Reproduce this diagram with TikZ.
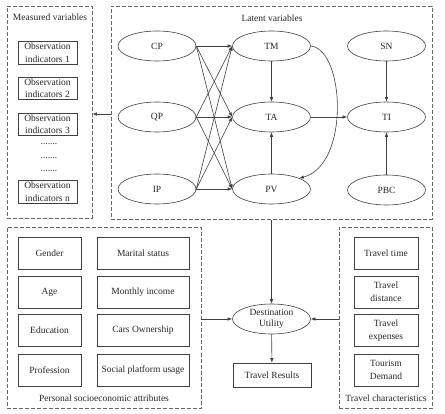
\documentclass[tikz,border=0pt]{standalone}
\usepackage{fontspec}
\setmainfont{Liberation Serif}
\usetikzlibrary{shapes.geometric,arrows.meta}
\begin{document}
\begin{tikzpicture}[x=1pt,y=-1pt,
  font=\fontsize{9.5}{12.5}\selectfont,
  every node/.style={text=black!85},
  grp/.style={draw=black!60, line width=0.7pt, dash pattern=on 4pt off 2pt},
  ell/.style={draw=black!75, ellipse, line width=0.6pt, minimum width=78pt, minimum height=30pt, inner sep=0pt},
  obs/.style={draw=black!75, line width=0.6pt, minimum width=59pt, minimum height=22.5pt, inner sep=0pt, align=center},
  attr/.style={draw=black!75, line width=0.6pt, minimum height=32pt, inner sep=0pt, align=center},
  arr/.style={draw=black!75, line width=0.6pt, -{Latex[length=4.5pt,width=3.5pt]}},
  lbl/.style={inner sep=0pt}
]
\useasboundingbox (0,0) rectangle (445,414);
% group boxes
\node[grp, minimum width=85pt, minimum height=212pt, inner sep=0pt] (meas) at (49.5,112.5) {};
\node[grp, minimum width=321pt, minimum height=213pt, inner sep=0pt] (lat) at (271.5,113) {};
\node[grp, minimum width=194pt, minimum height=181pt, inner sep=0pt] (pers) at (104,318) {};
\node[grp, minimum width=93pt, minimum height=181pt, inner sep=0pt] (trav) at (385.5,318) {};
% labels
\node[lbl] (lmeas) at (50,17) {Measured variables};
\node[lbl] (llat) at (272,18) {Latent variables};
\node[lbl] (lpers) at (104,398) {Personal socioeconomic attributes};
\node[lbl] (ltrav) at (386,398) {Travel characteristics};
% observation indicators
\node[obs] (o1) at (47.5,53) {Observation\\indicators 1};
\node[obs] (o2) at (47.5,88.5) {Observation\\indicators 2};
\node[obs] (o3) at (47.5,124.5) {Observation\\indicators 3};
\node[lbl] (d1) at (49,144) {.......};
\node[lbl] (d2) at (49,158) {.......};
\node[lbl] (d3) at (49,171) {.......};
\node[obs] (on) at (47.5,192) {Observation\\indicators n};
% latent ellipses
\node[ell] (cp) at (157,46) {CP};
\node[ell] (qp) at (157,117) {QP};
\node[ell] (ip) at (157,189) {IP};
\node[ell] (tm) at (271.5,46) {TM};
\node[ell] (ta) at (271.5,117) {TA};
\node[ell] (pv) at (271.5,189) {PV};
\node[ell] (sn) at (386.5,46) {SN};
\node[ell] (ti) at (386.5,117) {TI};
\node[ell] (pbc) at (386.5,190) {PBC};
% cross arrows
\foreach \s in {cp,qp,ip}{
  \foreach \t in {tm,ta,pv}{
    \draw[arr] (\s.east) -- (\t.west);
  }
}
\draw[arr] (tm) -- (ta);
\draw[arr] (pv) -- (ta);
\draw[arr] (ta) -- (ti);
\draw[arr] (sn) -- (ti);
\draw[arr] (pbc) -- (ti);
\draw[arr] (tm.east) .. controls (345,50) and (350,165) .. (pv.north east);
% measured arrow
\draw[arr] (lat.west |- 0,114) -- (meas.east |- 0,114);
% personal attributes
\node[attr, minimum width=63pt] (gender) at (49.5,253) {Gender};
\node[attr, minimum width=63pt] (age) at (49.5,292) {Age};
\node[attr, minimum width=63pt] (edu) at (49.5,330.5) {Education};
\node[attr, minimum width=63pt] (prof) at (49.5,370) {Profession};
\node[attr, minimum width=92pt] (mar) at (143,253) {Marital status};
\node[attr, minimum width=92pt] (inc) at (143,292) {Monthly income};
\node[attr, minimum width=92pt] (cars) at (143,330.5) {Cars Ownership};
\node[attr, minimum width=92pt] (soc) at (143,370) {Social platform usage};
% travel characteristics
\node[attr, minimum width=64pt] (tt) at (386,253) {Travel time};
\node[attr, minimum width=64pt] (td) at (386,292) {Travel\\distance};
\node[attr, minimum width=64pt] (te) at (386,330.5) {Travel\\expenses};
\node[attr, minimum width=64pt] (tdem) at (386,370) {Tourism\\Demand};
% destination
\node[ell, align=center, font=\fontsize{9.5}{11.5}\selectfont] (du) at (271.5,319) {Destination\\Utility};
\node[obs, minimum width=78pt, minimum height=24pt] (tr) at (272,375) {Travel Results};
\draw[arr] (lat.south) -- (du.north);
\draw[arr] (du) -- (tr);
\draw[arr] (pers.east |- du.west) -- (du.west);
\draw[arr] (trav.west |- du.east) -- (du.east);
\end{tikzpicture}
\end{document}
